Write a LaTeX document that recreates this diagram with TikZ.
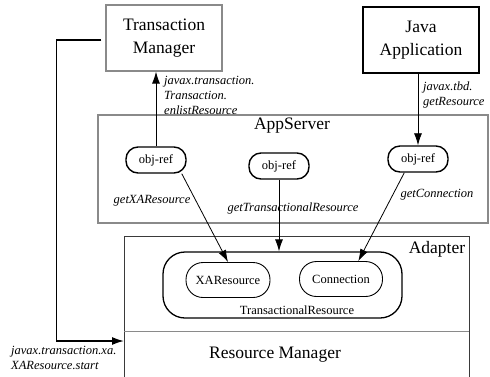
\documentclass[tikz,border=0pt]{standalone}
\usepackage{fontspec}
\setmainfont{Liberation Serif}
\definecolor{FrameGray}{HTML}{8A8A8A}
\definecolor{EdgeDark}{HTML}{3A3A3A}
\usetikzlibrary{arrows.meta, positioning}
\tikzset{
  % Box styles
  sysbox/.style={rectangle, draw=FrameGray, line width=1.2pt, minimum width=116pt, minimum height=66pt, align=center, font=\fontsize{17.5}{23}\selectfont},
  appbox/.style={sysbox, draw=black, line width=1.3pt},
  refnode/.style={rectangle, rounded corners=12pt, draw=black, line width=1.4pt, minimum width=60pt, minimum height=26pt, inner sep=0pt, font=\fontsize{12.5}{14}\selectfont},
  resnode/.style={refnode, line width=0.9pt, minimum height=35pt, rounded corners=17pt},
  % Text styles
  titletext/.style={font=\fontsize{17.5}{21}\selectfont, inner sep=0pt},
  calltext/.style={font=\fontsize{12.5}{15}\selectfont\itshape, align=left, inner sep=0pt},
  % Arrow styles
  arrow/.style={-{Latex[length=12pt,width=8pt]}, line width=0.8pt},
  thickarrow/.style={arrow, line width=1.5pt}
}

\begin{document}
\begin{tikzpicture}[x=1pt, y=-1pt]
  \useasboundingbox (0,0) rectangle (490,376);

  % Top boxes
  \node[sysbox] (tm) at (164,38) {Transaction\\Manager};
  \node[appbox] (java) at (421,40) {Java\\Application};

  % AppServer
  \node[rectangle, draw=FrameGray, line width=1.6pt, minimum width=390pt, minimum height=108pt] (appserver) at (293,169) {};
  \node[titletext] (aslabel) at (292,126) {AppServer};
  \node[refnode] (oref1) at (156,160) {obj-ref};
  \node[refnode] (oref2) at (279,166) {obj-ref};
  \node[refnode] (oref3) at (418,159) {obj-ref};

  % Adapter and Resource Manager
  \draw[EdgeDark, line width=0.8pt] (124,380) |- (469,236) -- (469,380);
  \draw[FrameGray, line width=0.8pt] (124,331) -- (469,331);
  \node[titletext] (adlabel) at (437,249) {Adapter};
  \node[titletext] (rm) at (275,355) {Resource Manager};
  \coordinate (rmin) at (124,341);

  % TransactionalResource
  \node[rectangle, rounded corners=22pt, draw=black, line width=1.3pt, minimum width=239pt, minimum height=66pt] (trres) at (282.5,285) {};
  \node[resnode, minimum width=84pt] (xares) at (228,280) {XAResource};
  \node[resnode, minimum width=83pt] (conn) at (341,279) {Connection};
  \node[font=\fontsize{12.5}{14}\selectfont, inner sep=0pt] (trlabel) at (297,310) {TransactionalResource};

  % Connectors
  \draw[arrow] (oref1.north) -- (oref1.north |- tm.south);
  \draw[arrow] (oref3.north |- java.south) -- (oref3.north);
  \draw[arrow] (oref1.-28) -- (xares.north);
  \draw[arrow] (oref2.south) -- (oref2.south |- trres.north);
  \draw[arrow] (oref3.-135) -- (conn.46);
  \draw[thickarrow] ([xshift=-4pt, yshift=-2pt]tm.west) -- ++(-45,0) |- (rmin);

  % Call labels
  \node[calltext, anchor=north west] (enlist) at (164,76) {javax.transaction.\\Transaction.\\enlistResource};
  \node[calltext, anchor=north west] (getres) at (423,82) {javax.tbd.\\getResource};
  \node[calltext] (getxa) at (152,201) {getXAResource};
  \node[calltext] (gettr) at (293,208) {getTransactionalResource};
  \node[calltext] (getconn) at (437,195) {getConnection};
  \node[calltext, anchor=north west] (xastart) at (11,346) {javax.transaction.xa.\\XAResource.start};
\end{tikzpicture}
\end{document}
